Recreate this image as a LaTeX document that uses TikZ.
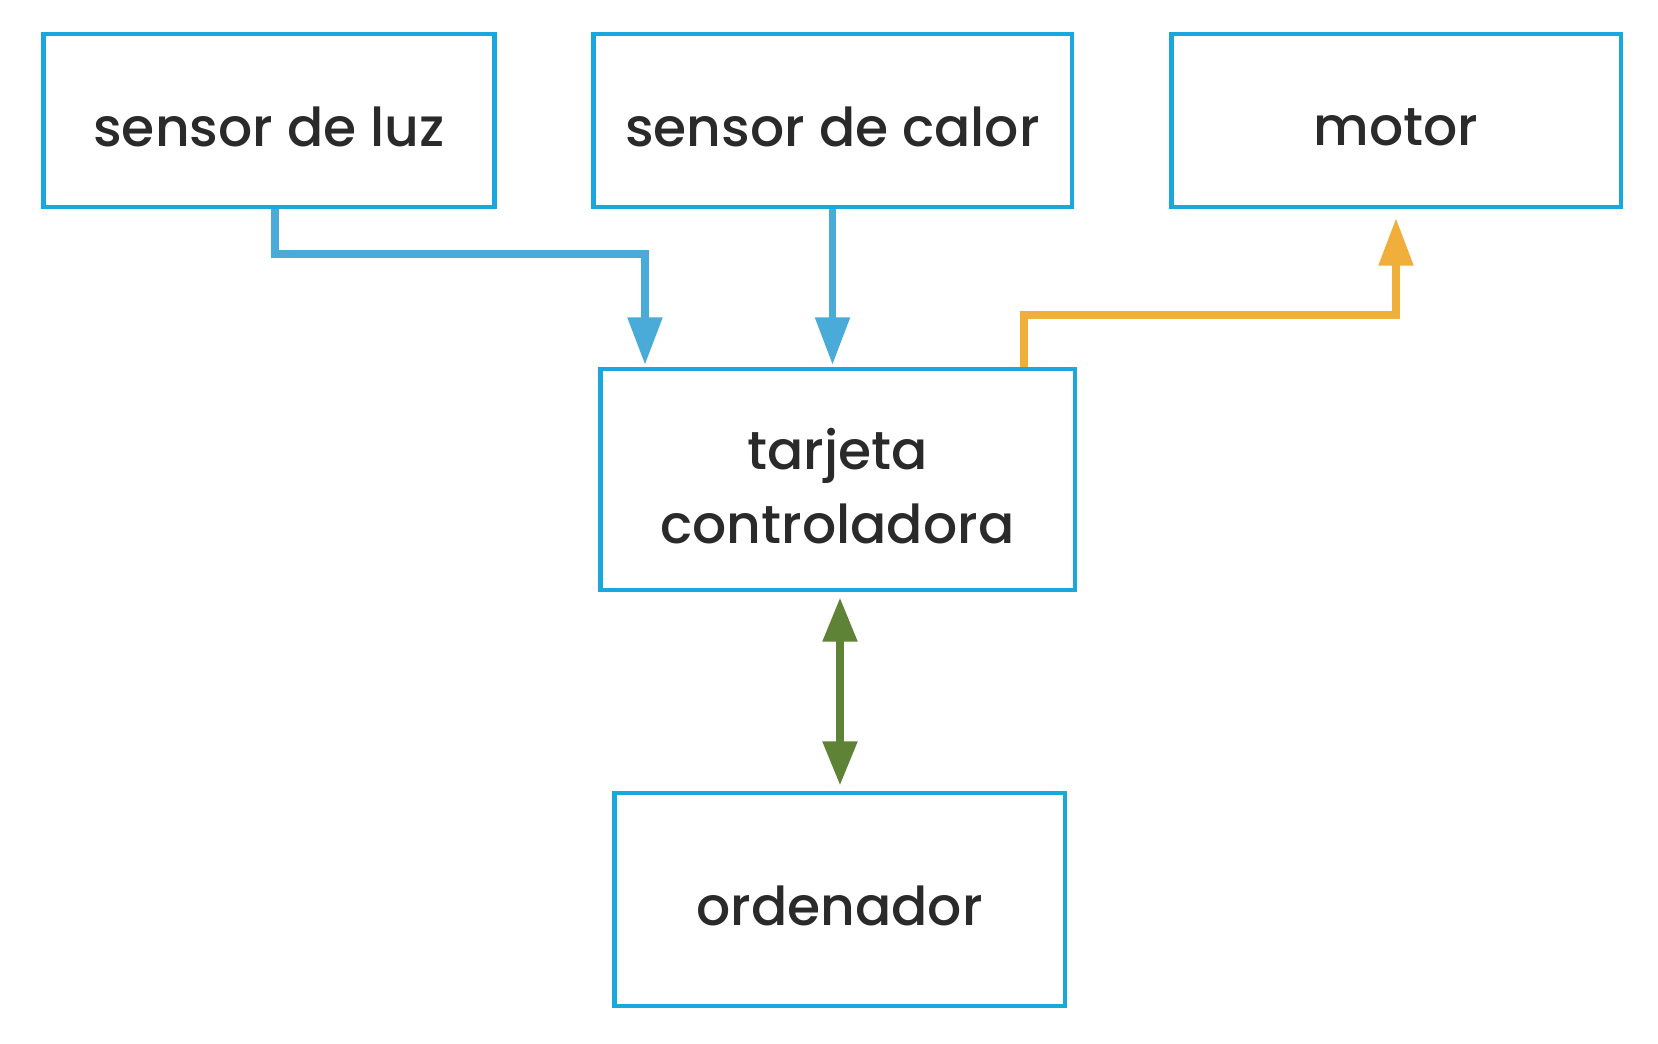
\documentclass[tikz,border=0pt]{standalone}
\usepackage{fontspec}
\setmainfont{Poppins}[UprightFont=* Medium]
\usetikzlibrary{arrows.meta,calc}
\definecolor{boxblue}{HTML}{1AA7DE}
\definecolor{arrblue}{HTML}{4AABD8}
\definecolor{arrorange}{HTML}{F0AF3A}
\definecolor{arrgreen}{HTML}{5E8236}
\definecolor{txt}{HTML}{2A2A2A}
\tikzset{
  blockbox/.style={draw=boxblue, line width=2.8pt, fill=white, inner sep=0pt},
  boxtext/.style={label={[yshift=-3.6pt, align=center, text=txt, font=\fontsize{30.5}{42}\selectfont]center:#1}},
  tip/.style={Triangle[length=27pt,width=19pt]},
  conn/.style={line width=4.1pt, -{Triangle[length=27pt,width=19pt]}},
}
\begin{document}
\begin{tikzpicture}[x=0.02cm,y=-0.02cm]
\fill[white] (0,0) rectangle (1658,1044);
\useasboundingbox (0,0) rectangle (1658,1044);
\node[blockbox, minimum width=9.04cm, minimum height=3.46cm, boxtext={sensor de luz}] (luz) at (269,120.5) {};
\node[blockbox, minimum width=9.58cm, minimum height=3.46cm, boxtext={sensor de calor}] (calor) at (832.5,120.5) {};
\node[blockbox, minimum width=9.0cm, minimum height=3.46cm, boxtext={motor}] (motor) at (1396,120.5) {};
\node[blockbox, minimum width=9.5cm, minimum height=4.42cm, boxtext={tarjeta\\controladora}] (tarjeta) at (837.5,479.5) {};
\node[blockbox, minimum width=9.02cm, minimum height=4.26cm, boxtext={ordenador}] (ordenador) at (839.5,899.5) {};
\coordinate (luzout) at (275,208);
\coordinate (luzbend) at (645,254);
\coordinate (motbend) at (1024,315);
\coordinate (motin) at (1396,315);
\coordinate (greenx) at (840,0);
\draw[conn, arrblue] (luz.south -| luzout) |- (luzbend) -- ([yshift=1pt]tarjeta.north -| luzbend);
\draw[conn, arrblue] (calor.south) -- ([yshift=1pt]tarjeta.north -| calor.south);
\draw[conn, arrorange] (tarjeta.north -| motbend) |- (motin) -- ([yshift=-5pt]motor.south);
\draw[line width=4.1pt, arrgreen, {Triangle[length=25pt,width=19pt]}-{Triangle[length=25pt,width=19pt]}]
  ([yshift=-3pt]tarjeta.south -| greenx) -- ([yshift=3pt]ordenador.north -| greenx);
\end{tikzpicture}
\end{document}
